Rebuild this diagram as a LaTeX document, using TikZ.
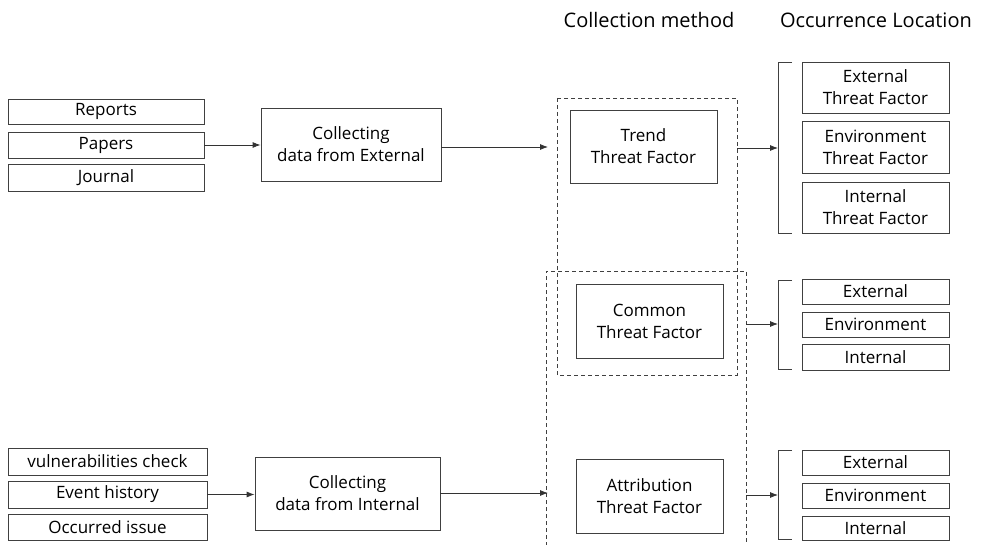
\documentclass[tikz,border=0pt]{standalone}
\usepackage{fontspec}
\setmainfont{Open Sans}
\usetikzlibrary{arrows.meta}
\begin{document}
\begin{tikzpicture}[x=1pt,y=-1pt,
  box/.style={draw=black!75,line width=0.8pt,align=center,inner sep=0pt,font=\fontsize{17}{22}\selectfont},
  dbox/.style={draw=black!75,line width=0.8pt,dashed,dash pattern=on 4pt off 3pt},
  arr/.style={draw=black!80,line width=0.8pt,-{Latex[length=8pt,width=6pt]}},
  brk/.style={draw=black!75,line width=0.8pt},
  head/.style={font=\fontsize{20}{24}\selectfont,inner sep=0pt}]
\useasboundingbox (0,0) rectangle (990,545);
% box with corners given in pixels
\newcommand{\pbox}[6]{\node[box,minimum width=#4-#2,minimum height=#5-#3] (#1) at ({(#2+#4)/2},{(#3+#5)/2}) {#6};}
% headings
\node[head] (hcm) at (649,20) {Collection method};
\node[head] (hol) at (876,20) {Occurrence Location};
% external sources
\pbox{rep}{8}{99}{204}{124}{Reports}
\pbox{pap}{8}{132}{204}{158}{Papers}
\pbox{jou}{8}{164}{204}{191}{Journal}
\pbox{cext}{261}{108}{441}{181}{Collecting\\data from External}
% internal sources
\pbox{vul}{8}{448}{207}{475}{vulnerabilities check}
\pbox{evh}{8}{481}{207}{508}{Event history}
\pbox{occ}{8}{514}{207}{540}{Occurred issue}
\pbox{cint}{255}{457}{440}{530}{Collecting\\data from Internal}
% collection method groups
\draw[dbox] (557,98) rectangle (737,375);
\draw[dbox] (546,560) -- (546,271) -- (746,271) -- (746,560);
\coordinate (g1in) at (548,147);
\coordinate (g2in) at (548,493);
\coordinate (g1out) at (737,148);
\coordinate (g2out) at (746,324);
\coordinate (g3out) at (746,495);
\pbox{trend}{570}{110}{717}{183}{Trend\\Threat Factor}
\pbox{common}{576}{284}{723}{358}{Common\\Threat Factor}
\pbox{attr}{576}{459}{723}{533}{Attribution\\Threat Factor}
% brackets
\draw[brk] (792,62) -- (778,62) -- (778,233) -- (792,233);
\draw[brk] (792,280) -- (778,280) -- (778,369) -- (792,369);
\draw[brk] (792,450) -- (778,450) -- (778,539) -- (792,539);
\coordinate (b1) at (778,148);
\coordinate (b2) at (778,324);
\coordinate (b3) at (778,495);
% occurrence locations
\pbox{ext1}{802}{62}{949}{113}{External\\Threat Factor}
\pbox{env1}{802}{121}{949}{173}{Environment\\Threat Factor}
\pbox{int1}{802}{182}{949}{233}{Internal\\Threat Factor}
\pbox{ext2}{802}{279}{949}{304}{External}
\pbox{env2}{802}{312}{949}{337}{Environment}
\pbox{int2}{802}{344}{949}{370}{Internal}
\pbox{ext3}{802}{450}{949}{475}{External}
\pbox{env3}{802}{483}{949}{508}{Environment}
\pbox{int3}{802}{516}{949}{540}{Internal}
% connectors
\draw[arr] (pap.east) -- (cext.west|-pap.east);
\draw[arr] (evh.east) -- (cint.west|-evh.east);
\draw[arr] (cext.east|-g1in) -- (g1in);
\draw[arr] (cint.east|-g2in) -- (g2in);
\draw[arr] (g1out) -- (b1);
\draw[arr] (g2out) -- (b2);
\draw[arr] (g3out) -- (b3);
\end{tikzpicture}
\end{document}
